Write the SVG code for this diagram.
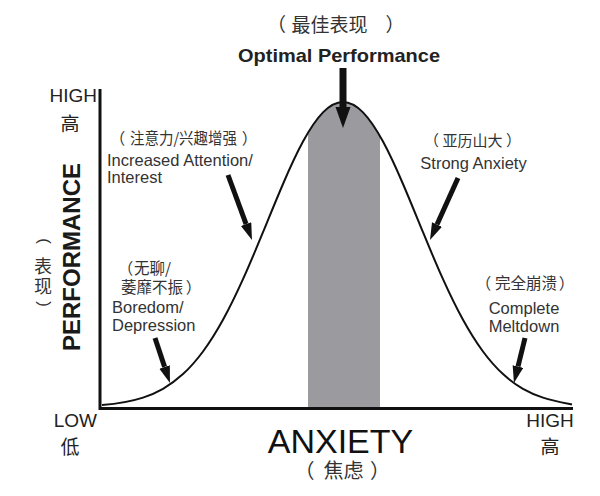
<svg xmlns="http://www.w3.org/2000/svg" width="600" height="496" viewBox="0 0 600 496">
<style>
.t{font-family:"Liberation Sans","Noto Sans CJK SC",Arial,sans-serif;fill:#333}
.z{font-family:"Noto Sans CJK SC","Noto Sans CJK JP",sans-serif;fill:#333}
.c{font-size:15.5px}
.lab{font-size:16.5px}
.ax{font-size:19px;fill:#222}
.arr{stroke:#111;stroke-width:5;fill:none}
</style>
<defs>
<marker id="ah" markerUnits="userSpaceOnUse" markerWidth="18" markerHeight="12" refX="0" refY="5.5" orient="auto">
<path d="M0,0 L17,5.5 L0,11 z" fill="#111"/>
</marker>
<marker id="ahb" markerUnits="userSpaceOnUse" markerWidth="22" markerHeight="16" refX="0" refY="7.5" orient="auto">
<path d="M0,0 L21,7.5 L0,15 z" fill="#111"/>
</marker>
<clipPath id="under">
<path d="M102,405 C115.67,403.88 129.33,402.07 143,397.6 C149.67,395.42 156.33,392.6 163,388.8 C169.67,385 176.33,380.2 183,374.1 C189.67,368 196.33,360.51 203,351.5 C209.67,342.49 216.33,331.93 223,319.8 C229.67,307.67 236.33,294.02 243,279.2 C249.67,264.38 256.33,248.41 263,232.2 C269.67,215.99 276.33,199.51 283,184 C289.67,168.49 296.33,153.91 303,141.6 C309.67,129.29 316.33,119.23 323,112.4 C329.67,105.57 336.33,102 343,102 C349.67,102 356.33,105.57 363,112.4 C369.67,119.23 376.33,129.29 383,141.6 L383,408 L303,408 z"/>
</clipPath>
</defs>

<g id="band">
<rect x="308" y="95" width="72" height="313" fill="#9b9a9e" clip-path="url(#under)"/>
</g>

<g id="curve">
<path d="M102,405 C115.67,403.88 129.33,402.07 143,397.6 C149.67,395.42 156.33,392.6 163,388.8 C169.67,385 176.33,380.2 183,374.1 C189.67,368 196.33,360.51 203,351.5 C209.67,342.49 216.33,331.93 223,319.8 C229.67,307.67 236.33,294.02 243,279.2 C249.67,264.38 256.33,248.41 263,232.2 C269.67,215.99 276.33,199.51 283,184 C289.67,168.49 296.33,153.91 303,141.6 C309.67,129.29 316.33,119.23 323,112.4 C329.67,105.57 336.33,102 343,102 C349.67,102 356.33,105.57 363,112.4 C369.67,119.23 376.33,129.29 383,141.6 C389.67,153.91 396.33,168.49 403,184 C409.67,199.51 416.33,215.99 423,232.2 C429.67,248.41 436.33,264.38 443,279.2 C449.67,294.02 456.33,307.67 463,319.8 C469.67,331.93 476.33,342.49 483,351.5 C489.67,360.51 496.33,368 503,374.1 C509.67,380.2 516.33,385 523,388.8 C529.67,392.6 536.33,395.42 543,397.6 C552.67,400.76 562.33,402.57 572,404.5" fill="none" stroke="#111" stroke-width="2"/>
</g>

<g id="axes">
<path d="M100,89 L100,408.5 L573,408.5" fill="none" stroke="#111" stroke-width="3"/>
</g>

<g id="connectors">
<line class="arr" x1="343" y1="68" x2="343" y2="107" style="stroke-width:7" marker-end="url(#ahb)"/>
<line class="arr" x1="228" y1="175" x2="246.1" y2="224.1" marker-end="url(#ah)"/>
<line class="arr" x1="155" y1="338" x2="164.6" y2="366.9" marker-end="url(#ah)"/>
<line class="arr" x1="458" y1="178" x2="437" y2="224.5" marker-end="url(#ah)"/>
<line class="arr" x1="525" y1="338" x2="518" y2="366.5" marker-end="url(#ah)"/>
</g>

<g id="optimal">
<text class="z" font-size="19" text-anchor="middle" y="32"><tspan x="276.5">（</tspan><tspan x="329.5">最佳表现</tspan><tspan x="395">）</tspan></text>
<text class="t" x="238" y="62" font-size="19" font-weight="bold" style="fill:#222" textLength="202" lengthAdjust="spacingAndGlyphs">Optimal Performance</text>
</g>

<g id="y-axis-labels">
<text class="t ax" x="97" y="102" text-anchor="end">HIGH</text>
<text class="z ax" x="70" y="131" text-anchor="middle">高</text>
<text class="t" transform="translate(80,257) rotate(-90)" text-anchor="middle" font-size="24" font-weight="bold" style="fill:#1a1a1a">PERFORMANCE</text>
<text class="t" font-size="17" text-anchor="middle" dominant-baseline="central" transform="translate(44.5,241) rotate(90)">(</text>
<text class="z" font-size="18" text-anchor="middle"><tspan x="43" y="273">表</tspan><tspan x="43" y="293">现</tspan></text>
<text class="t" font-size="17" text-anchor="middle" dominant-baseline="central" transform="translate(44.5,304) rotate(90)">)</text>
</g>

<g id="increased">
<text class="z c" text-anchor="middle" y="144"><tspan x="117.5">（</tspan><tspan x="183.5" textLength="107" lengthAdjust="spacingAndGlyphs">注意力/兴趣增强</tspan><tspan x="249.5">）</tspan></text>
<text class="t lab" x="107" y="166">Increased Attention/</text>
<text class="t lab" x="107" y="182.5">Interest</text>
</g>

<g id="boredom">
<text class="z c" text-anchor="middle" y="274"><tspan x="125.5">（</tspan><tspan x="152.5">无聊/</tspan></text>
<text class="z c" text-anchor="middle" y="293"><tspan x="152">萎靡不振</tspan><tspan x="193.5">）</tspan></text>
<text class="t lab" x="112" y="313">Boredom/</text>
<text class="t lab" x="112" y="331">Depression</text>
</g>

<g id="strong">
<text class="z" font-size="15" text-anchor="middle" y="146"><tspan x="431.5">（</tspan><tspan x="472.5">亚历山大</tspan><tspan x="513.5">）</tspan></text>
<text class="t lab" x="473.5" y="169" text-anchor="middle">Strong Anxiety</text>
</g>

<g id="meltdown">
<text class="z c" text-anchor="middle" y="289"><tspan x="483.5">（</tspan><tspan x="526">完全崩溃</tspan><tspan x="566.5">）</tspan></text>
<text class="t lab" x="524" y="314" text-anchor="middle">Complete</text>
<text class="t lab" x="524" y="331.5" text-anchor="middle">Meltdown</text>
</g>

<g id="x-axis-labels">
<text class="t ax" x="97" y="427" text-anchor="end">LOW</text>
<text class="z ax" x="70" y="454" text-anchor="middle">低</text>
<text class="t ax" x="550" y="427" text-anchor="middle">HIGH</text>
<text class="z ax" x="550" y="454" text-anchor="middle">高</text>
<text class="t" x="340.5" y="453" font-size="34" text-anchor="middle" style="fill:#111">ANXIETY</text>
<text class="z" font-size="20" text-anchor="middle" y="478"><tspan x="304.5">（</tspan><tspan x="343.5">焦虑</tspan><tspan x="380">）</tspan></text>
</g>
</svg>
